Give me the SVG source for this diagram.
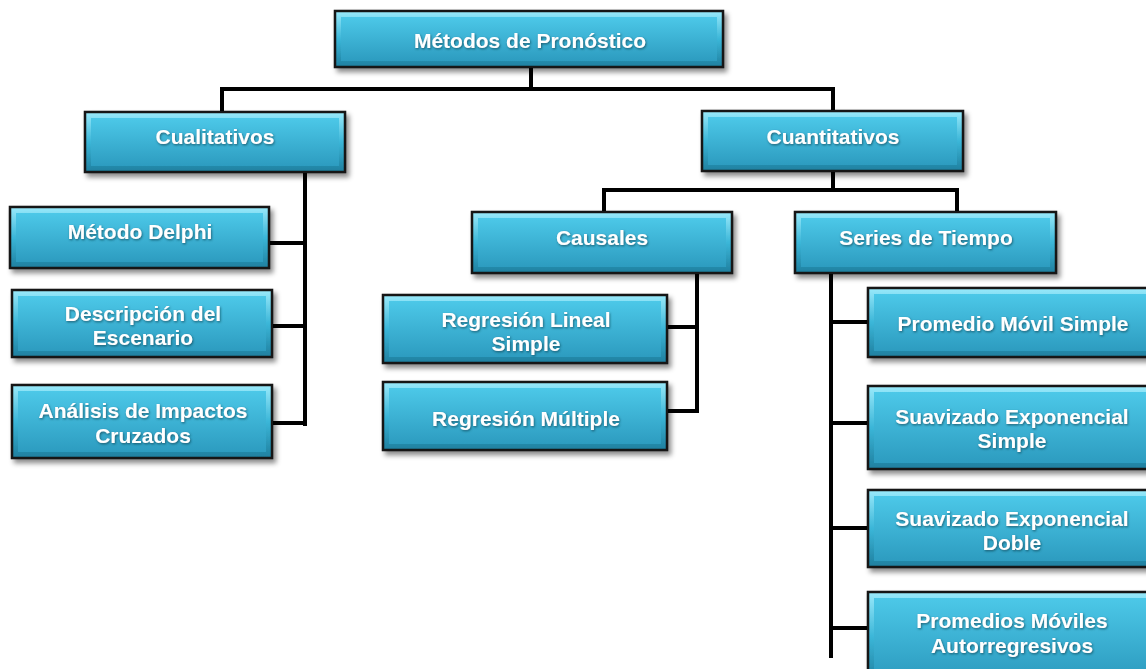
<svg xmlns="http://www.w3.org/2000/svg" width="1146" height="669" viewBox="0 0 1146 669">
  <defs>
    <!-- outer bevel: light on top, dark at bottom -->
    <linearGradient id="bevel" x1="0" y1="0" x2="0" y2="1">
      <stop offset="0" stop-color="#9aeafb"/>
      <stop offset="0.5" stop-color="#3bb6d8"/>
      <stop offset="1" stop-color="#1f7f9f"/>
    </linearGradient>
    <!-- face of the box -->
    <linearGradient id="face" x1="0" y1="0" x2="0" y2="1">
      <stop offset="0" stop-color="#4cc8e8"/>
      <stop offset="1" stop-color="#2d9cc0"/>
    </linearGradient>
    <filter id="shadow" x="-10%" y="-20%" width="125%" height="160%">
      <feDropShadow dx="3" dy="4" stdDeviation="2.5" flood-color="#000" flood-opacity="0.45"/>
    </filter>
    <filter id="tshadow" x="-5%" y="-20%" width="110%" height="150%">
      <feDropShadow dx="0.8" dy="1.2" stdDeviation="0.8" flood-color="#0b3a4a" flood-opacity="0.7"/>
    </filter>
  </defs>
  <style>
    .box { fill: url(#bevel); stroke: #151515; stroke-width: 2.5; filter: url(#shadow); }
    .face { fill: url(#face); }
    .label { font-family: "Liberation Sans", Arial, sans-serif; font-weight: bold; font-size: 21px; fill: #ffffff; text-anchor: middle; filter: url(#tshadow); }
    .wire { fill: none; stroke: #000; stroke-width: 4; stroke-linecap: square; }
  </style>

  <rect width="1146" height="669" fill="#ffffff"/>

  <!-- connectors -->
  <g id="connectors" class="wire">
    <path d="M531 67 V89 M222 89 H833 M222 89 V112 M833 89 V112"/>
    <path d="M305 172 V424 M269 243 H305 M272 326 H305 M272 423 H305"/>
    <path d="M833 171 V190 M604 190 H957 M604 190 V212 M957 190 V212"/>
    <path d="M697 273 V411 M667 327 H697 M667 411 H697"/>
    <path d="M831 273 V656 M831 322 H868 M831 423 H868 M831 528 H868 M831 628 H868"/>
  </g>

  <g id="n-metodos">
    <rect class="box" x="335" y="11" width="388" height="56"/>
    <rect class="face" x="341" y="17" width="376" height="44"/>
    <text class="label" x="530" y="48">Métodos de Pronóstico</text>
  </g>

  <g id="n-cualitativos">
    <rect class="box" x="85" y="112" width="260" height="60"/>
    <rect class="face" x="91" y="118" width="248" height="48"/>
    <text class="label" x="215" y="144">Cualitativos</text>
  </g>

  <g id="n-cuantitativos">
    <rect class="box" x="702" y="111" width="261" height="60"/>
    <rect class="face" x="708" y="117" width="249" height="48"/>
    <text class="label" x="833" y="144">Cuantitativos</text>
  </g>

  <g id="n-delphi">
    <rect class="box" x="10" y="207" width="259" height="61"/>
    <rect class="face" x="16" y="213" width="247" height="49"/>
    <text class="label" x="140" y="239">Método Delphi</text>
  </g>

  <g id="n-escenario">
    <rect class="box" x="12" y="290" width="260" height="67"/>
    <rect class="face" x="18" y="296" width="248" height="55"/>
    <text class="label" x="143" y="321">Descripción del</text>
    <text class="label" x="143" y="345">Escenario</text>
  </g>

  <g id="n-impactos">
    <rect class="box" x="12" y="385" width="260" height="73"/>
    <rect class="face" x="18" y="391" width="248" height="61"/>
    <text class="label" x="143" y="418">Análisis de Impactos</text>
    <text class="label" x="143" y="443">Cruzados</text>
  </g>

  <g id="n-causales">
    <rect class="box" x="472" y="212" width="260" height="61"/>
    <rect class="face" x="478" y="218" width="248" height="49"/>
    <text class="label" x="602" y="245">Causales</text>
  </g>

  <g id="n-series">
    <rect class="box" x="795" y="212" width="261" height="61"/>
    <rect class="face" x="801" y="218" width="249" height="49"/>
    <text class="label" x="926" y="245">Series de Tiempo</text>
  </g>

  <g id="n-reg-lineal">
    <rect class="box" x="383" y="295" width="284" height="68"/>
    <rect class="face" x="389" y="301" width="272" height="56"/>
    <text class="label" x="526" y="327">Regresión Lineal</text>
    <text class="label" x="526" y="351">Simple</text>
  </g>

  <g id="n-reg-multiple">
    <rect class="box" x="383" y="382" width="284" height="68"/>
    <rect class="face" x="389" y="388" width="272" height="56"/>
    <text class="label" x="526" y="426">Regresión Múltiple</text>
  </g>

  <g id="n-pms">
    <rect class="box" x="868" y="288" width="290" height="69"/>
    <rect class="face" x="874" y="294" width="278" height="57"/>
    <text class="label" x="1013" y="331">Promedio Móvil Simple</text>
  </g>

  <g id="n-ses">
    <rect class="box" x="868" y="386" width="290" height="83"/>
    <rect class="face" x="874" y="392" width="278" height="71"/>
    <text class="label" x="1012" y="424">Suavizado Exponencial</text>
    <text class="label" x="1012" y="448">Simple</text>
  </g>

  <g id="n-sed">
    <rect class="box" x="868" y="490" width="290" height="77"/>
    <rect class="face" x="874" y="496" width="278" height="65"/>
    <text class="label" x="1012" y="526">Suavizado Exponencial</text>
    <text class="label" x="1012" y="550">Doble</text>
  </g>

  <g id="n-arma">
    <rect class="box" x="868" y="592" width="290" height="90"/>
    <rect class="face" x="874" y="598" width="278" height="78"/>
    <text class="label" x="1012" y="628">Promedios Móviles</text>
    <text class="label" x="1012" y="653">Autorregresivos</text>
  </g>
</svg>
